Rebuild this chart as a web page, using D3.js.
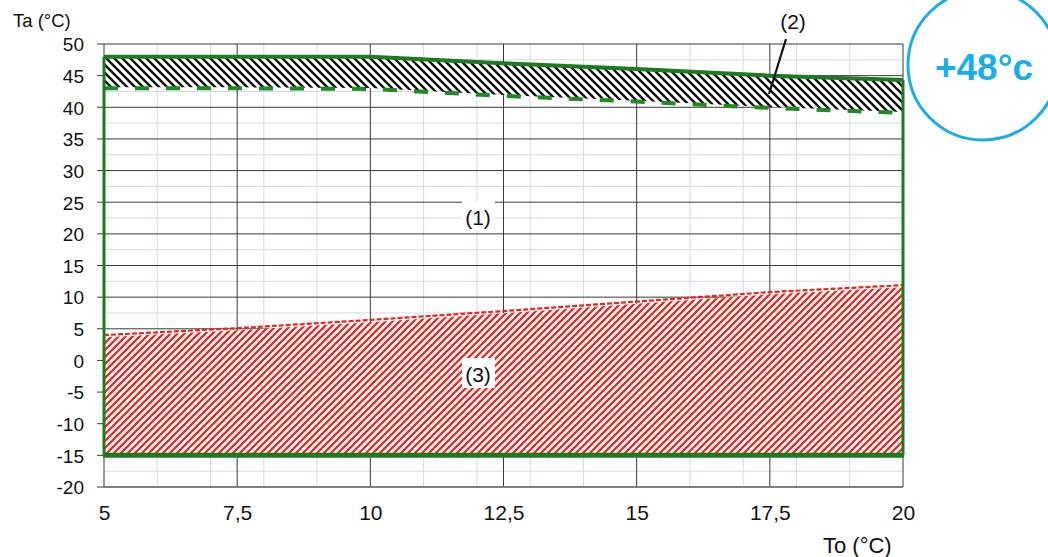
<!DOCTYPE html>
<html><head><meta charset="utf-8">
<script src="https://cdn.jsdelivr.net/npm/d3@7"></script>
<style>body{margin:0;background:#fff}svg{display:block;font-family:"Liberation Sans",Arial,sans-serif}</style>
</head><body><svg id="c" width="1048" height="557"></svg>
<script>
const xs = [5, 7.5, 10, 12.5, 15, 17.5, 20];
const maxTa = [48, 48, 48, 46.95, 46.05, 45.0, 44.3];
const hatchLow = [43, 43, 42.9, 41.8, 40.9, 39.9, 39.1];
const lowLimit = [4.0, 5.1, 6.4, 7.8, 9.3, 10.8, 11.9];
const minTa = -15;
const xTicks = [5, 7.5, 10, 12.5, 15, 17.5, 20];
const xTickLabels = ["5", "7,5", "10", "12,5", "15", "17,5", "20"];
const yTicks = [-20, -15, -10, -5, 0, 5, 10, 15, 20, 25, 30, 35, 40, 45, 50];
const xMinor = [6, 7, 8, 9, 11, 12, 13, 14, 16, 17, 18, 19];
const yMinor = d3.range(-17.5, 50, 5);

const svg = d3.select("#c");
const x = d3.scaleLinear().domain([5, 20]).range([104, 903]);
const y = d3.scaleLinear().domain([-20, 50]).range([487, 44]);

const defs = svg.append("defs");
const pb = defs.append("pattern").attr("id", "hb").attr("patternUnits", "userSpaceOnUse")
  .attr("width", 8).attr("height", 8);
pb.append("rect").attr("width", 8).attr("height", 8).attr("fill", "#fff");
pb.append("path").attr("d", "M-2,-2L10,10M-2,6L2,10M6,-2L10,2").attr("stroke", "#111").attr("stroke-width", 2.4);
const pr = defs.append("pattern").attr("id", "hr").attr("patternUnits", "userSpaceOnUse")
  .attr("width", 7).attr("height", 7);
pr.append("rect").attr("width", 7).attr("height", 7).attr("fill", "#fdf0f0");
pr.append("path").attr("d", "M-2,9L9,-2M-2,2L2,-2M5,9L9,5").attr("stroke", "#de2a22").attr("stroke-width", 2.2);

// minor grid
const g = svg.append("g");
g.selectAll(".vm").data(xMinor).join("line")
  .attr("x1", d => x(d)).attr("x2", d => x(d)).attr("y1", y(50)).attr("y2", y(-20))
  .attr("stroke", "#d3dbe6").attr("stroke-width", 1);
g.selectAll(".hm").data(yMinor).join("line")
  .attr("x1", x(5)).attr("x2", x(20)).attr("y1", d => y(d)).attr("y2", d => y(d))
  .attr("stroke", "#d3dbe6").attr("stroke-width", 1);
// major grid
g.selectAll(".vM").data(xTicks).join("line")
  .attr("x1", d => x(d)).attr("x2", d => x(d)).attr("y1", y(50)).attr("y2", y(-20))
  .attr("stroke", "#3a3a3a").attr("stroke-width", 1);
g.selectAll(".hM").data(yTicks).join("line")
  .attr("x1", x(5) - 7).attr("x2", x(20)).attr("y1", d => y(d)).attr("y2", d => y(d))
  .attr("stroke", "#3a3a3a").attr("stroke-width", 1);
g.append("line").attr("x1", x(5)).attr("x2", x(20)).attr("y1", y(-20)).attr("y2", y(-20))
  .attr("stroke", "#777").attr("stroke-width", 1.5);

// axes labels via d3 axes (no domain)
const yAxis = svg.append("g").attr("transform", `translate(84,0)`)
  .call(d3.axisLeft(y).tickValues(yTicks).tickSize(0).tickPadding(0).tickFormat(d => String(d)));
yAxis.select(".domain").remove();
yAxis.attr("font-size", null).attr("font-family", null);
yAxis.selectAll("text").attr("font-size", "19px").attr("fill", "#111").attr("dy", "0.36em");
const xAxis = svg.append("g").attr("transform", `translate(0,${y(-20)})`)
  .call(d3.axisBottom(x).tickValues(xTicks).tickSize(0).tickPadding(0).tickFormat((d, i) => xTickLabels[i]));
xAxis.select(".domain").remove();
xAxis.attr("font-size", null).attr("font-family", null);
xAxis.selectAll("text").attr("font-size", "21px").attr("fill", "#111").attr("dy", null).attr("y", 33);

const pts = xs.map((d, i) => ({ x: d, hi: maxTa[i], lo: hatchLow[i], ll: lowLimit[i] }));

// red hatch area (3)
svg.append("path").datum(pts)
  .attr("d", d3.area().x(d => x(d.x)).y0(y(minTa)).y1(d => y(d.ll - 0.35)))
  .attr("fill", "url(#hr)");
// black hatch area (2)
svg.append("path").datum(pts)
  .attr("d", d3.area().x(d => x(d.x)).y0(d => y(d.lo + 0.15)).y1(d => y(d.hi)))
  .attr("fill", "url(#hb)");

// red dashed top of (3)
svg.append("path").datum(pts)
  .attr("d", d3.line().x(d => x(d.x)).y(d => y(d.ll)))
  .attr("fill", "none").attr("stroke", "#e02a20").attr("stroke-width", 2.2).attr("stroke-dasharray", "5,2");
// green dashed lower of (2)
svg.append("path").datum(pts)
  .attr("d", d3.line().x(d => x(d.x)).y(d => y(d.lo)))
  .attr("fill", "none").attr("stroke", "#1f8a1f").attr("stroke-width", 4).attr("stroke-dasharray", "14,17");
// green outline (1)
const green = "#1e7a1e";
svg.append("path").datum(pts)
  .attr("d", d3.line().x(d => x(d.x)).y(d => y(d.hi)))
  .attr("fill", "none").attr("stroke", green).attr("stroke-width", 4);
svg.append("line").attr("x1", x(5)).attr("x2", x(5)).attr("y1", y(maxTa[0])).attr("y2", y(minTa))
  .attr("stroke", green).attr("stroke-width", 3);
svg.append("line").attr("x1", x(20)).attr("x2", x(20)).attr("y1", y(maxTa[6])).attr("y2", y(minTa))
  .attr("stroke", green).attr("stroke-width", 3);
svg.append("line").attr("x1", x(5) - 1).attr("x2", x(20) + 1).attr("y1", y(minTa)).attr("y2", y(minTa))
  .attr("stroke", green).attr("stroke-width", 5);

// region labels with white boxes
function boxLabel(cx, base, txt) {
  svg.append("rect").attr("x", cx - 16).attr("y", base - 24).attr("width", 33).attr("height", 30).attr("fill", "#fff");
  svg.append("text").attr("x", cx).attr("y", base).attr("text-anchor", "middle")
    .attr("font-size", "21px").attr("fill", "#111").text(txt);
}
boxLabel(478, 225, "(1)");
boxLabel(478, 382, "(3)");
svg.append("text").attr("x", 793).attr("y", 29).attr("text-anchor", "middle")
  .attr("font-size", "21px").attr("fill", "#111").text("(2)");
svg.append("line").attr("x1", 786).attr("y1", 39).attr("x2", 769).attr("y2", 94)
  .attr("stroke", "#111").attr("stroke-width", 2.2);

svg.append("text").attr("x", 13).attr("y", 27).attr("font-size", "18.5px").attr("fill", "#111").text("Ta (°C)");
svg.append("text").attr("x", 823).attr("y", 553).attr("font-size", "22px").attr("fill", "#111").text("To (°C)");

// badge
svg.append("circle").attr("cx", 983).attr("cy", 65).attr("r", 75)
  .attr("fill", "#fff").attr("stroke", "#1aaee8").attr("stroke-width", 3);
svg.append("text").attr("x", 984).attr("y", 80).attr("text-anchor", "middle")
  .attr("font-size", "37px").attr("font-weight", "bold").attr("fill", "#1aaee8").text("+48°c");
</script></body></html>
